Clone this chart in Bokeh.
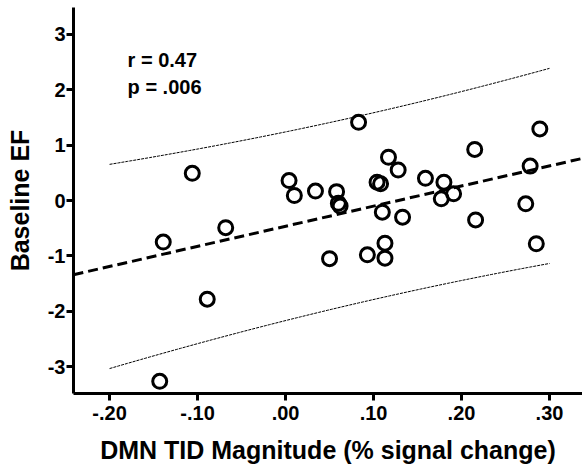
import numpy as np
from bokeh.plotting import figure
from bokeh.models import Range1d, FixedTicker, CustomJSTickFormatter, Label
from bokeh.embed import file_html
from bokeh.resources import INLINE

# ---- data ----
dmn_tid = [-0.143, -0.139, -0.106, -0.089, -0.068, 0.004, 0.010, 0.034, 0.058, 0.060,
           0.062, 0.050, 0.083, 0.093, 0.104, 0.108, 0.110, 0.113, 0.113, 0.117,
           0.128, 0.133, 0.159, 0.180, 0.177, 0.191, 0.215, 0.216, 0.273, 0.278,
           0.289, 0.285]
baseline_ef = [-3.26, -0.75, 0.49, -1.78, -0.49, 0.36, 0.09, 0.17, 0.16, -0.05,
               -0.10, -1.05, 1.41, -0.98, 0.33, 0.30, -0.21, -0.77, -1.04, 0.78,
               0.55, -0.30, 0.40, 0.33, 0.03, 0.12, 0.92, -0.35, -0.06, 0.62,
               1.29, -0.78]
x_ticks = [-0.2, -0.1, 0.0, 0.1, 0.2, 0.3]
x_tick_labels = ["-.20", "-.10", ".00", ".10", ".20", ".30"]
y_ticks = [-3, -2, -1, 0, 1, 2, 3]
y_tick_labels = ["-3", "-2", "-1", "0", "1", "2", "3"]
stats_lines = ["r = 0.47", "p = .006"]
x_title = "DMN TID Magnitude (% signal change)"
y_title = "Baseline EF"
band_limits = [-0.2, 0.3]   # x extent of the prediction interval lines
t_crit = 2.042              # t(0.975, df = 30)

# ---- fit & 95% prediction interval computed from the points ----
x = np.array(dmn_tid)
y = np.array(baseline_ef)
n = len(x)
slope, intercept = np.polyfit(x, y, 1)
resid = y - (slope * x + intercept)
s = np.sqrt(np.sum(resid ** 2) / (n - 2))
xm = x.mean()
sxx = np.sum((x - xm) ** 2)
xb = np.linspace(band_limits[0], band_limits[1], 100)
yb = slope * xb + intercept
half = t_crit * s * np.sqrt(1 + 1 / n + (xb - xm) ** 2 / sxx)

x_range = Range1d(-0.241, 0.3375)
y_range = Range1d(-3.48, 3.48)

p = figure(width=582, height=467, output_backend="svg", toolbar_location=None,
           x_range=x_range, y_range=y_range,
           min_border_left=73, min_border_right=0, min_border_top=7, min_border_bottom=74)
p.outline_line_color = None
p.xgrid.visible = False
p.ygrid.visible = False
p.background_fill_color = "white"

FONT = "Liberation Sans"

# prediction interval lines
p.line(xb, yb + half, line_color="black", line_width=1, line_dash="3 1")
p.line(xb, yb - half, line_color="black", line_width=1, line_dash="3 1")

# regression line across full x range
xr = np.array([x_range.start, x_range.end])
p.line(xr, slope * xr + intercept, line_color="black", line_width=3, line_dash="10 5")

# points
p.scatter(x, y, size=14, marker="circle", fill_color=None, line_color="black", line_width=3)

# stats text
p.add_layout(Label(x=-0.1795, y=2.54, text=stats_lines[0], text_font=FONT,
                   text_font_style="bold", text_font_size="20px", text_color="black",
                   text_baseline="alphabetic"))
p.add_layout(Label(x=-0.1795, y=2.04, text=stats_lines[1], text_font=FONT,
                   text_font_style="bold", text_font_size="20px", text_color="black",
                   text_baseline="alphabetic"))

# axes
LOOKUP = """
    let best = 0, d = 1e9;
    for (let i = 0; i < tvals.length; i++) {
        const dd = Math.abs(tvals[i] - tick);
        if (dd < d) { d = dd; best = i; }
    }
    return tlabels[best];
"""
p.xaxis.ticker = FixedTicker(ticks=x_ticks)
p.xaxis.formatter = CustomJSTickFormatter(
    args=dict(tvals=x_ticks, tlabels=x_tick_labels), code=LOOKUP)
p.yaxis.ticker = FixedTicker(ticks=y_ticks)
p.yaxis.formatter = CustomJSTickFormatter(
    args=dict(tvals=y_ticks, tlabels=y_tick_labels), code=LOOKUP)
p.xaxis.axis_label = x_title
p.yaxis.axis_label = y_title

for ax in (p.xaxis[0], p.yaxis[0]):
    ax.axis_line_width = 3
    ax.axis_line_color = "black"
    ax.major_tick_line_width = 3
    ax.major_tick_line_color = "black"
    ax.major_tick_out = 7
    ax.major_tick_in = 0
    ax.minor_tick_line_color = None
    ax.major_label_text_font = FONT
    ax.major_label_text_font_style = "bold"
    ax.major_label_text_font_size = "20px"
    ax.major_label_text_color = "black"
    ax.axis_label_text_font = FONT
    ax.axis_label_text_font_style = "bold"
    ax.axis_label_text_font_size = "25px"
    ax.axis_label_text_color = "black"

p.xaxis.major_label_standoff = 5
p.xaxis.axis_label_standoff = 13
p.yaxis.major_label_standoff = 1
p.yaxis.axis_label_standoff = 11

open("out.html", "w").write(file_html(p, INLINE))
